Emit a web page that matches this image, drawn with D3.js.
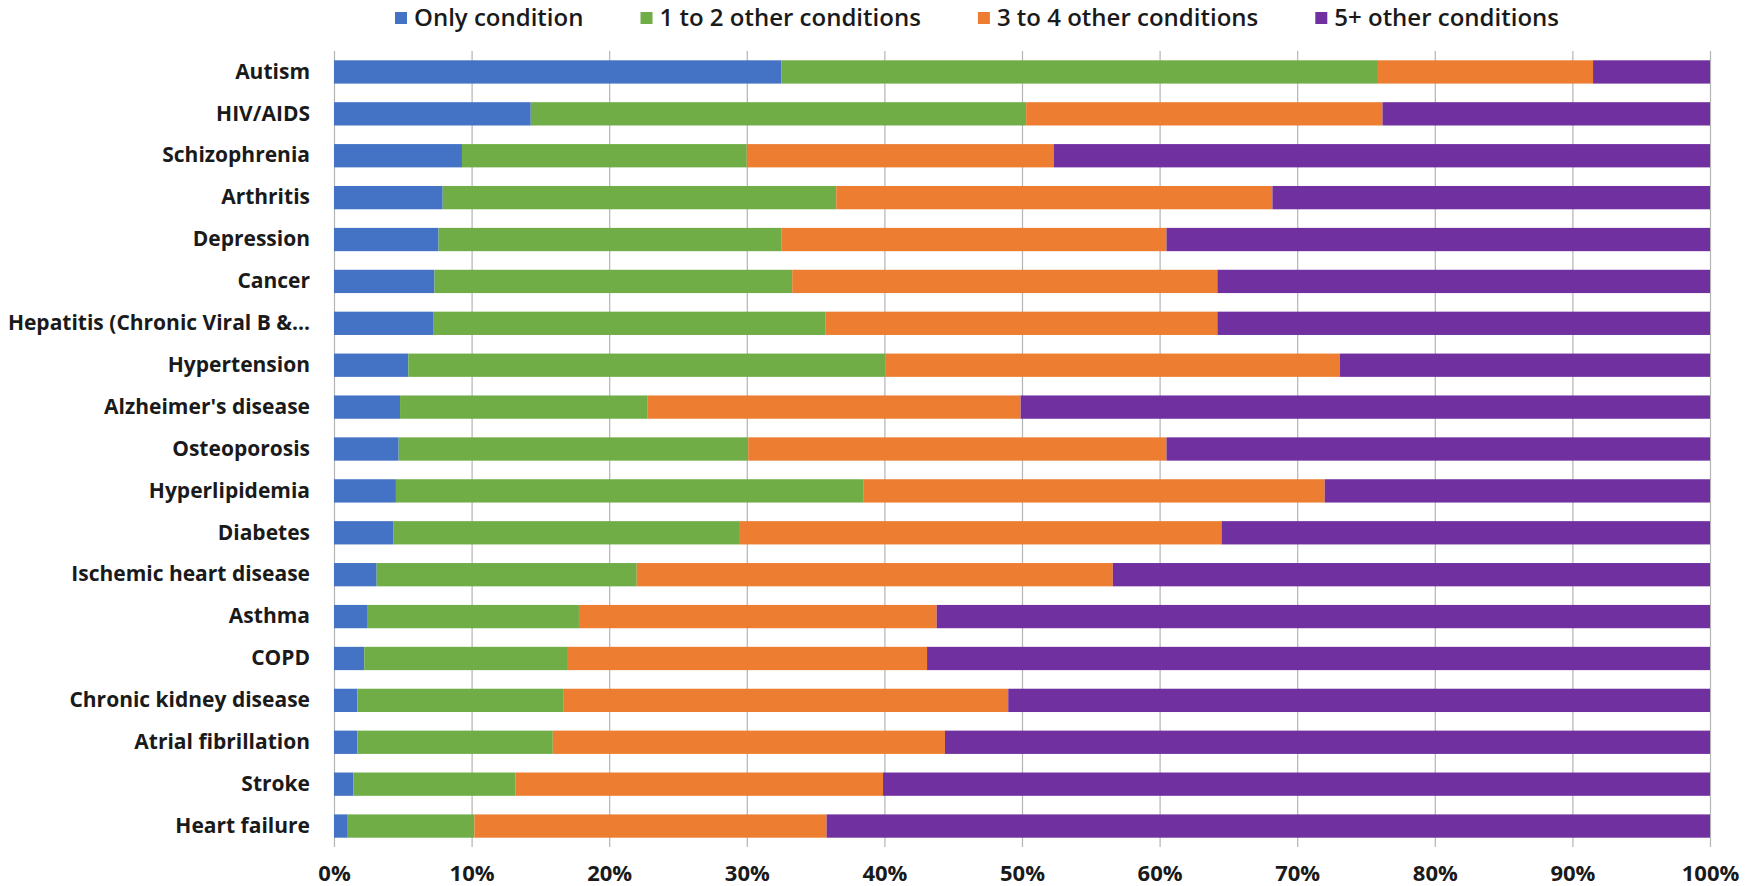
<!DOCTYPE html>
<html>
<head>
<meta charset="utf-8">
<script src="https://cdn.jsdelivr.net/npm/d3@7"></script>
<style>
  body { margin: 0; background: #fff; }
  svg { display: block; }
  text { font-family: "Open Sans", "Noto Sans", sans-serif; fill: #1a1a1a; }
</style>
</head>
<body>
<script>
// Conditions, top to bottom
var conditions = ["Autism", "HIV/AIDS", "Schizophrenia", "Arthritis", "Depression", "Cancer",
  "Hepatitis (Chronic Viral B &...", "Hypertension", "Alzheimer's disease", "Osteoporosis",
  "Hyperlipidemia", "Diabetes", "Ischemic heart disease", "Asthma", "COPD",
  "Chronic kidney disease", "Atrial fibrillation", "Stroke", "Heart failure"];

// Series names (legend order)
var seriesNames = ["Only condition", "1 to 2 other conditions", "3 to 4 other conditions", "5+ other conditions"];
var seriesColors = ["#4472C4", "#70AD47", "#ED7D31", "#7030A0"];

// Percent of patients per condition
var onlyCondition = [32.5, 14.3, 9.3, 7.9, 7.6, 7.3, 7.2, 5.4, 4.8, 4.7, 4.5, 4.3, 3.1, 2.4, 2.2, 1.7, 1.7, 1.4, 1.0];
var oneToTwo      = [43.3, 36.0, 20.7, 28.6, 24.9, 26.0, 28.5, 34.7, 18.0, 25.4, 34.0, 25.2, 18.9, 15.4, 14.8, 15.0, 14.2, 11.8, 9.2];
var threeToFour   = [15.7, 25.9, 22.3, 31.7, 28.0, 30.9, 28.5, 33.0, 27.1, 30.4, 33.5, 35.0, 34.6, 26.0, 26.1, 32.3, 28.5, 26.7, 25.6];
var fivePlus      = [8.5, 23.8, 47.7, 31.8, 39.5, 35.8, 35.8, 26.9, 50.1, 39.5, 28.0, 35.5, 43.4, 56.2, 56.9, 51.0, 55.6, 60.1, 64.2];

var tickValues = [0, 10, 20, 30, 40, 50, 60, 70, 80, 90, 100];

function drawChart() {
  var w = 1746;
  var h = 886;
  var plotLeft = 334, plotRight = 1710, plotTop = 51, plotBottom = 847;

  // build rows for the stack layout
  var keys = ["only", "oneTwo", "threeFour", "five"];
  var rows = conditions.map(function(c, i) {
    return { name: c, only: onlyCondition[i], oneTwo: oneToTwo[i], threeFour: threeToFour[i], five: fivePlus[i] };
  });
  var stacked = d3.stack().keys(keys)(rows);

  var svg = d3.select("body").append("svg")
    .attr("width", w)
    .attr("height", h);

  var x = d3.scaleLinear().domain([0, 100]).range([plotLeft, plotRight]);
  var y = d3.scaleBand().domain(conditions).range([plotTop, plotBottom])
    .paddingInner(0.444).paddingOuter(0.222);

  // gridlines
  svg.append("g")
    .selectAll("line")
    .data(tickValues)
    .enter()
    .append("line")
    .attr("x1", function(d) { return x(d) + 0.5; })
    .attr("x2", function(d) { return x(d) + 0.5; })
    .attr("y1", plotTop)
    .attr("y2", plotBottom)
    .attr("stroke", "#b4b4b4")
    .attr("stroke-width", 1.2);

  // bars
  svg.append("g")
    .selectAll("g")
    .data(stacked)
    .enter()
    .append("g")
    .attr("fill", function(d, i) { return seriesColors[i]; })
    .selectAll("rect")
    .data(function(d) { return d; })
    .enter()
    .append("rect")
    .attr("x", function(d) { return x(d[0]); })
    .attr("width", function(d) { return x(d[1]) - x(d[0]); })
    .attr("y", function(d) { return y(d.data.name); })
    .attr("height", y.bandwidth());

  // x axis labels
  var xAxis = d3.axisBottom(x)
    .tickValues(tickValues)
    .tickSize(0)
    .tickPadding(0)
    .tickFormat(function(d) { return d + "%"; });
  var gx = svg.append("g").attr("transform", "translate(0," + (plotBottom + 26) + ")").call(xAxis);
  gx.select(".domain").remove();
  gx.selectAll("text")
    .attr("y", 0)
    .attr("dy", "0.35em")
    .style("font-family", "'Open Sans', sans-serif")
    .style("font-size", "22px")
    .style("font-weight", "bold")
    .attr("fill", "#1a1a1a");

  // y axis labels
  var yAxis = d3.axisLeft(y).tickSize(0).tickPadding(0);
  var gy = svg.append("g").attr("transform", "translate(310,0)").call(yAxis);
  gy.select(".domain").remove();
  gy.selectAll("text")
    .style("font-family", "'Open Sans', sans-serif")
    .style("font-size", "21px")
    .style("font-weight", "bold")
    .attr("fill", "#1a1a1a");

  // legend: items spread between the first swatch and the end of the last label
  var legendLeft = 395, legendRight = 1559;
  var legend = svg.append("g");
  var items = seriesNames.map(function(name, i) {
    var item = legend.append("g");
    item.append("rect")
      .attr("x", 0).attr("y", 12)
      .attr("width", 12).attr("height", 12)
      .attr("fill", seriesColors[i]);
    var t = item.append("text")
      .attr("x", 19)
      .attr("y", 18)
      .attr("dy", "0.35em")
      .style("font-size", "24px")
      .style("font-weight", "600")
      .text(name);
    return { g: item, width: 19 + t.node().getComputedTextLength() };
  });
  var total = d3.sum(items, function(d) { return d.width; });
  var gap = (legendRight - legendLeft - total) / (items.length - 1);
  var lx = legendLeft;
  items.forEach(function(d) {
    d.g.attr("transform", "translate(" + lx + ",0)");
    lx += d.width + gap;
  });
}

drawChart();
</script>
</body>
</html>
